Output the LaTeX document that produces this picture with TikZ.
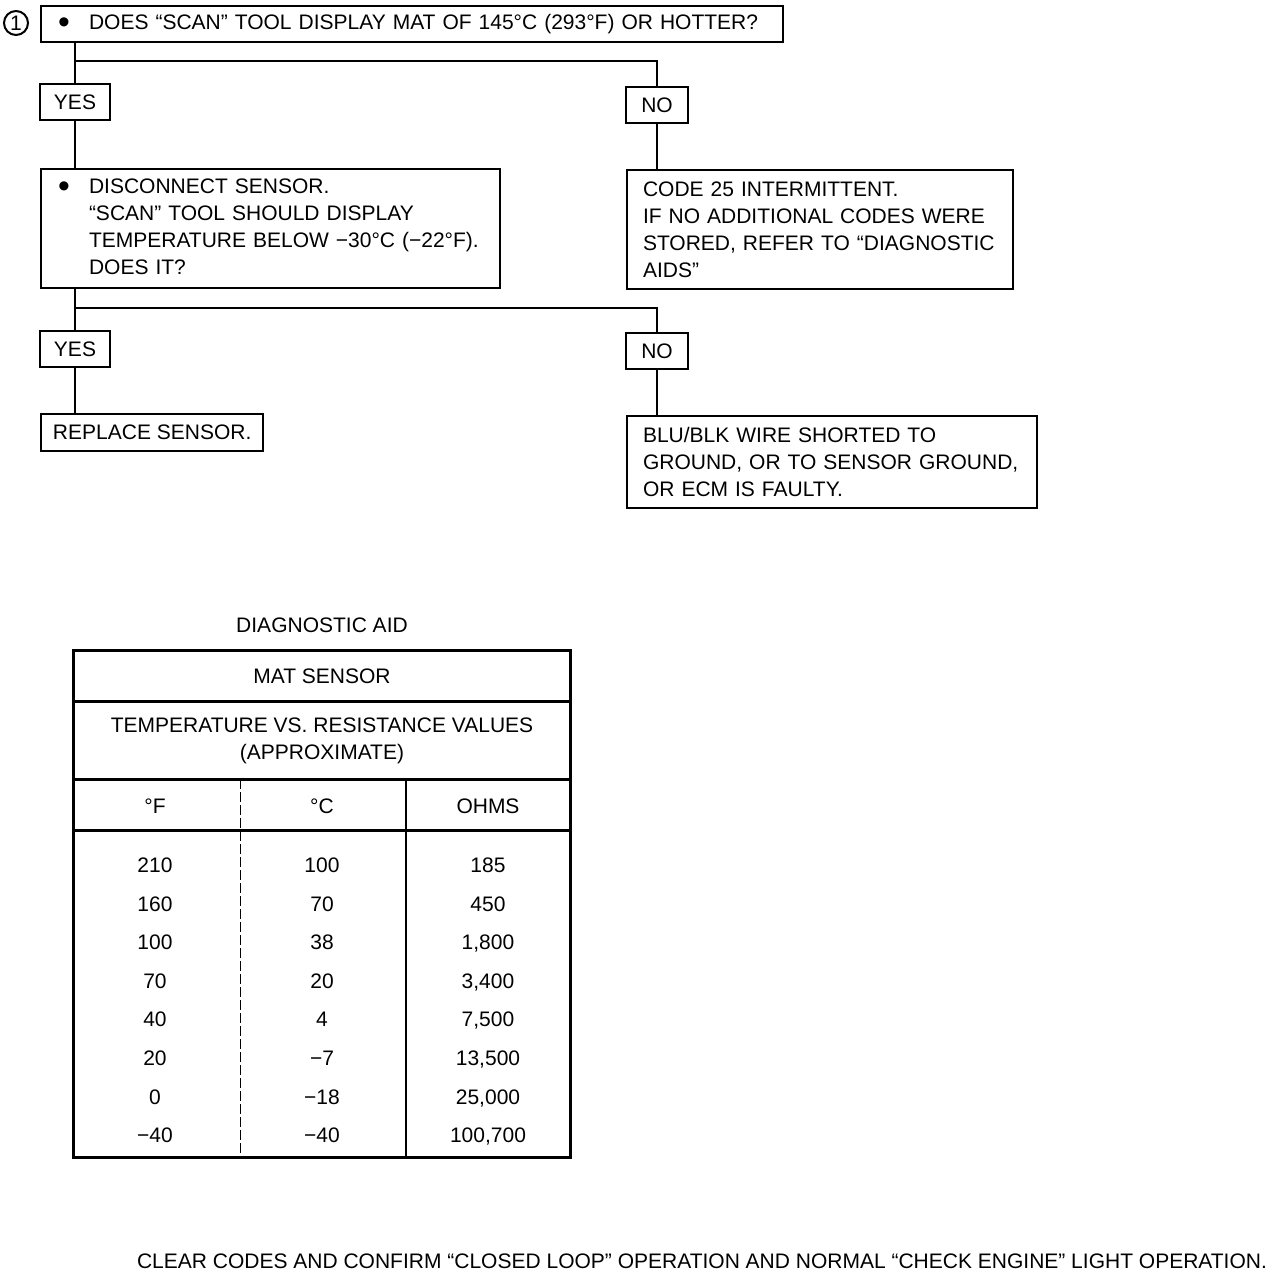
\documentclass[tikz,border=0pt]{standalone}
\usepackage{fontspec}
\setmainfont{Liberation Sans}
\usepackage{tikz}
\usetikzlibrary{positioning, calc}
\tikzset{
    box/.style={
        draw=black,
        line width=1pt,
        anchor=north west,
        align=left,
        inner ysep=0pt,
        font=\fontsize{10.5}{13.5}\selectfont
    },
    answer/.style={
        draw=black,
        line width=1pt,
        minimum height=18pt,
        inner sep=0pt,
        font=\fontsize{10.5}{13.5}\selectfont
    },
    flow/.style={
        line width=1pt
    },
    grid/.style={
        line width=1.5pt
    },
    cell/.style={
        align=center,
        font=\fontsize{10.5}{13.5}\selectfont
    },
    number/.style={
        cell,
        text height=7.6pt,
        text depth=0pt
    }
}
\newcommand{\dotmark}{\raisebox{-2.2pt}{\scalebox{1.6}{\textbullet}}}

\begin{document}
\begin{tikzpicture}[x=0.5pt, y=-0.5pt]
      \useasboundingbox (0,0) rectangle (1280,1270);

      \node[draw, circle, line width=1pt, minimum size=12pt, inner sep=0pt,
            font=\fontsize{10.5}{12}\selectfont] (num1) at (16,23) {1};
      \node[box, inner xsep=4pt, text width=363pt, minimum height=18pt] (q1) at (40,5)
        {\makebox[20pt][l]{\hspace{4.5pt}\dotmark}DOES “SCAN” TOOL DISPLAY MAT OF 145°C (293°F) OR HOTTER?};

      \node[answer, minimum width=35pt] (yes1) at (75,102) {YES};
      \node[answer, minimum width=31pt] (no1)  at (657,105) {NO};

      \node[box, inner xsep=4pt, text width=221.5pt, minimum height=59.5pt] (q2) at (40,168)
        {\begin{tabular}{@{}p{20pt}@{}l@{}}
           \hspace{4.5pt}\dotmark & DISCONNECT SENSOR.\\
            & “SCAN” TOOL SHOULD DISPLAY\\
            & TEMPERATURE BELOW −30°C (−22°F).\\
            & DOES IT?
         \end{tabular}};
      \node[box, inner xsep=8pt, text width=177pt, minimum height=59.5pt] (intermit) at (626,169)
        {CODE 25 INTERMITTENT.\\IF NO ADDITIONAL CODES WERE\\STORED, REFER TO “DIAGNOSTIC\\AIDS”};

      \node[answer, minimum width=35pt] (yes2) at (75,349) {YES};
      \node[answer, minimum width=31pt] (no2)  at (657,351) {NO};

      \node[box, inner xsep=6pt, minimum height=18.5pt] (replace) at (40,413) {REPLACE SENSOR.};
      \node[box, inner xsep=8pt, text width=189pt, minimum height=46pt] (shorted) at (626,415)
        {BLU/BLK WIRE SHORTED TO\\GROUND, OR TO SENSOR GROUND,\\OR ECM IS FAULTY.};

      \coordinate (fork1) at (75,61);
      \coordinate (fork2) at (75,308);

      \draw[flow] (q1.south -| yes1) -- (yes1.north);
      \draw[flow] (fork1) -| (no1.north);
      \draw[flow] (yes1.south) -- (yes1.south |- q2.north);
      \draw[flow] (no1.south) -- (no1.south |- intermit.north);
      \draw[flow] (q2.south -| yes2) -- (yes2.north);
      \draw[flow] (fork2) -| (no2.north);
      \draw[flow] (yes2.south) -- (yes2.south |- replace.north);
      \draw[flow] (no2.south) -- (no2.south |- shorted.north);

      \node[cell] (aidtitle) at (322,625) {DIAGNOSTIC AID};
      \draw[grid] (73,650) rectangle (570,1157);
      \draw[grid] (73,701) -- (570,701);
      \draw[grid] (73,779) -- (570,779);
      \draw[grid] (73,830) -- (570,830);
      \draw[line width=1pt] (406,779) -- (406,1157);
      \draw[thin, dash pattern=on 5pt off 1.5pt] (240,779) -- (240,1157);

      \node[cell] (sensor) at (322,676) {MAT SENSOR};
      \node[cell] (values) at (322,741) {TEMPERATURE VS. RESISTANCE VALUES\\(APPROXIMATE)};
      \node[number] (degf) at (155,806) {°F};
      \node[number] (degc) at (322,806) {°C};
      \node[number] (ohms) at (488,806) {OHMS};

      \foreach \f/\c/\o [count=\i] in {210/100/185, 160/70/450, 100/38/{1,800}, 70/20/{3,400},
          40/4/{7,500}, 20/−7/{13,500}, 0/−18/{25,000}, −40/−40/{100,700}} {
        \node[number] (f\i) at (155,{826.4+38.57*\i}) {\f};
        \node[number] (c\i) at (322,{826.4+38.57*\i}) {\c};
        \node[number] (o\i) at (488,{826.4+38.57*\i}) {\o};
      }

      \node[cell] (note) at (702,1261)
        {CLEAR CODES AND CONFIRM “CLOSED LOOP” OPERATION AND NORMAL “CHECK ENGINE” LIGHT OPERATION.};
\end{tikzpicture}
\end{document}
